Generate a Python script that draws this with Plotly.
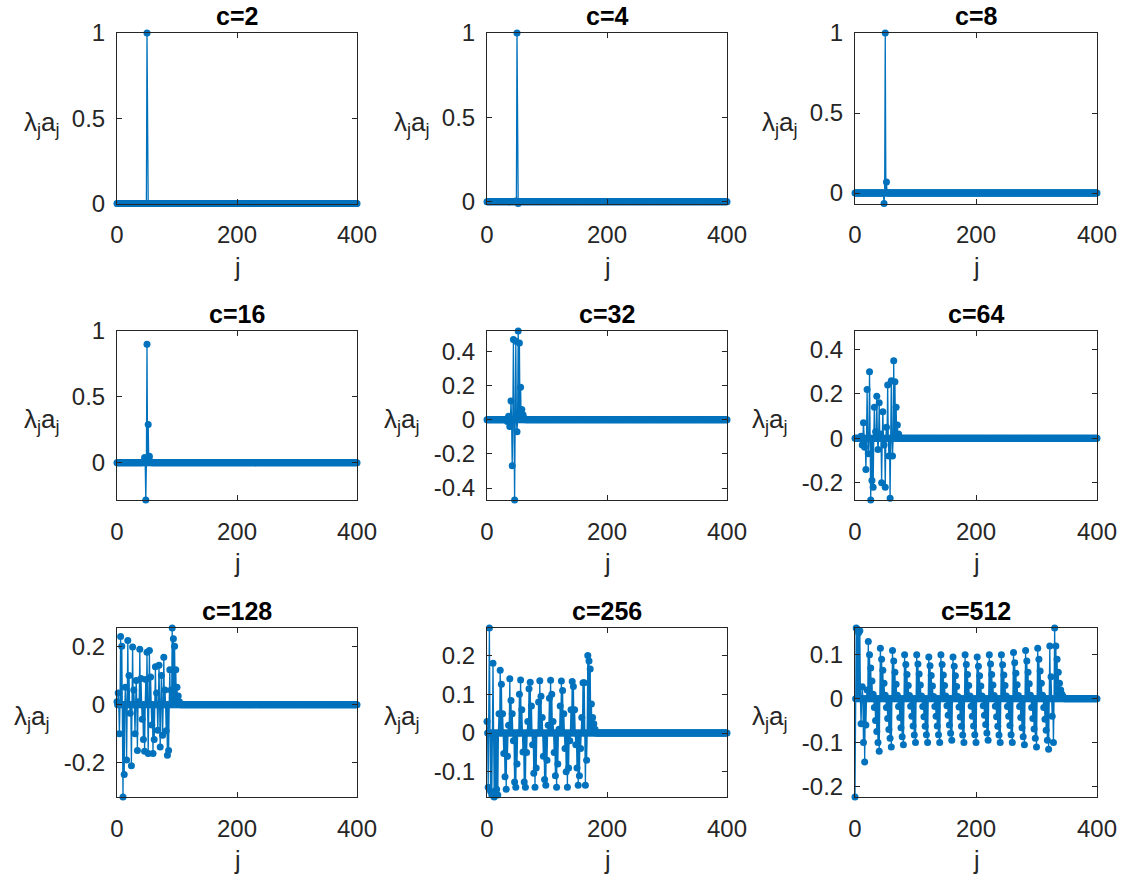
import plotly.graph_objects as go

W, H = 1123, 879
BLUE = "#0072BD"
AXC = "#262626"
FONT = "Arial, Liberation Sans, sans-serif"

j_values = list(range(0, 401))
x_ticks = [0, 200, 400]
titles = ["c=2", "c=4", "c=8", "c=16", "c=32", "c=64", "c=128", "c=256", "c=512"]

# nonzero values of lambda_j a_j, placed at even j starting at *_start (odd j are zero)
c2_start = 50
c2_vals = [1.0]
c4_start = 48
c4_vals = [0.005, 1.0, -0.01]
c8_start = 48
c8_vals = [-0.065, 1.0, 0.07]
c16_start = 44
c16_vals = [0.01, 0.04, -0.283, 0.9, 0.29, 0.05, 0.01]
c32_start = 34
c32_vals = [-0.01, 0.02, -0.04, 0.11, -0.27, 0.47, -0.47, 0.46, -0.07, 0.52, 0.45, 0.19, 0.06, 0.03, 0.01]
c64_start = 10
c64_vals = [0.01, -0.03, 0.07, -0.04, -0.14, 0.22, -0.07, 0.30, -0.278, -0.19, -0.22, 0.14, 0.03, 0.19,
            -0.05, 0.16, 0.02, -0.20, 0.12, -0.03, -0.22, 0.05, 0.24, -0.08, -0.27, 0.26, -0.08, 0.35,
            0.255, 0.14, 0.06, 0.02, 0.005]
c128_start = 0
c128_vals = [0.01, 0.04, -0.10, 0.234, 0.20, -0.317, -0.24, 0.06, -0.19, 0.22, 0.10, -0.03, -0.21, 0.198,
             0.05, -0.10, 0.083, -0.157, 0.01, 0.19, 0.09, -0.05, -0.12, -0.16, 0.086, 0.18, -0.168, 0.186,
             0.095, -0.07, -0.168, -0.12, 0.13, 0.04, -0.088, 0.135, -0.145, 0.10, -0.105, 0.163, 0.05,
             -0.09, -0.174, -0.157, 0.12, 0.05, 0.263, 0.226, 0.20, 0.12, 0.06, 0.03, 0.01]
c256_start = 0
c256_vals = [0.03, -0.14, 0.271, -0.15, -0.16, 0.18, -0.165, -0.155, -0.145, -0.16, 0.05, 0.162, 0.126,
             0.05, -0.053, -0.113, -0.145, -0.06, 0.02, 0.14, 0.084, 0.05, -0.02, -0.126, -0.14, -0.08,
             0.0, 0.10, 0.137, 0.06, -0.049, -0.126, -0.14, -0.05, 0.03, 0.114, 0.131, 0.07, -0.03,
             -0.104, -0.14, -0.09, 0.0, 0.08, 0.135, 0.095, 0.04, -0.06, -0.12, -0.135, -0.07, 0.02,
             0.09, 0.136, 0.10, 0.03, -0.05, -0.11, -0.14, -0.08, 0.01, 0.07, 0.134, 0.11, 0.05, -0.04,
             -0.10, -0.14, -0.09, -0.02, 0.06, 0.133, 0.12, 0.06, -0.03, -0.09, -0.135, -0.11, -0.04,
             0.04, 0.13, 0.13, -0.135, -0.07, 0.20, 0.186, 0.165, 0.075, 0.04, 0.024, 0.01]
c512_start = 0
c512_vals = [-0.224, 0.161, 0.158, 0.15, 0.155, -0.057, 0.027, -0.10, -0.144, -0.06, 0.02,
             0.13, 0.10, 0.07, 0.04, 0.01, -0.02, -0.05, -0.075, -0.10, -0.12,
             0.115, 0.09, 0.065, 0.035, 0.008, -0.02, -0.045, -0.07, -0.09, -0.11,
             0.11, 0.086, 0.06, 0.033, 0.008, -0.018, -0.043, -0.066, -0.087, -0.105,
             0.10, 0.078, 0.055, 0.03, 0.007, -0.017, -0.04, -0.062, -0.083, -0.10,
             0.10, 0.079, 0.056, 0.031, 0.006, -0.018, -0.041, -0.063, -0.082, -0.10,
             0.095, 0.075, 0.053, 0.029, 0.005, -0.018, -0.04, -0.062, -0.082, -0.10,
             0.10, 0.078, 0.054, 0.03, 0.006, -0.016, -0.038, -0.06, -0.079, -0.095,
             0.095, 0.074, 0.052, 0.028, 0.005, -0.019, -0.042, -0.063, -0.083, -0.10,
             0.10, 0.078, 0.055, 0.03, 0.006, -0.017, -0.04, -0.062, -0.082, -0.10,
             0.095, 0.074, 0.052, 0.029, 0.006, -0.016, -0.038, -0.059, -0.078, -0.095,
             0.10, 0.079, 0.055, 0.031, 0.007, -0.017, -0.041, -0.063, -0.083, -0.10,
             0.10, 0.077, 0.054, 0.03, 0.006, -0.018, -0.04, -0.061, -0.082, -0.10,
             0.105, 0.082, 0.058, 0.032, 0.007, -0.018, -0.043, -0.066, -0.087, -0.105,
             0.11, 0.086, 0.06, 0.034, 0.008, -0.02, -0.045, -0.069, -0.09, -0.11,
             0.115, 0.09, 0.063, 0.035, 0.008, -0.02, -0.047, -0.072, -0.095, -0.115,
             0.12, 0.05, -0.04, -0.10, 0.161, 0.12, 0.09, 0.06, 0.035, 0.02, 0.01, 0.005]

starts = [c2_start, c4_start, c8_start, c16_start, c32_start, c64_start, c128_start, c256_start, c512_start]
vals = [c2_vals, c4_vals, c8_vals, c16_vals, c32_vals, c64_vals, c128_vals, c256_vals, c512_vals]

y_ranges = [[0, 1], [-0.01, 1], [-0.065, 1.0], [-0.283, 1.0], [-0.47, 0.52], [-0.278, 0.484],
            [-0.317, 0.263], [-0.165, 0.271], [-0.224, 0.161]]
y_ticks = [[0, 0.5, 1], [0, 0.5, 1], [0, 0.5, 1], [0, 0.5, 1], [-0.4, -0.2, 0, 0.2, 0.4],
           [-0.2, 0, 0.2, 0.4], [-0.2, 0, 0.2], [-0.1, 0, 0.1, 0.2], [-0.2, -0.1, 0, 0.1]]

# layout geometry in pixels
col_px = [(117, 357), (487, 727), (855, 1097)]
row_px = [(33, 203.5), (331, 500), (628, 797)]

fig = go.Figure()
annotations = []
for i in range(9):
    r, c = divmod(i, 3)
    y = [0.0] * len(j_values)
    for k, v in enumerate(vals[i]):
        y[starts[i] + 2 * k] = v
    ax = "" if i == 0 else str(i + 1)
    fig.add_trace(go.Scatter(
        x=j_values, y=y, mode="lines+markers",
        line=dict(color=BLUE, width=1.3),
        marker=dict(color=BLUE, size=7),
        cliponaxis=False, showlegend=False,
        xaxis="x" + ax, yaxis="y" + ax,
    ))
    x0, x1 = col_px[c]
    t0, t1 = row_px[r]
    xd = [x0 / W, x1 / W]
    yd = [1 - t1 / H, 1 - t0 / H]
    common = dict(showline=True, linecolor=AXC, linewidth=1, mirror="ticks", ticks="inside",
                  ticklen=5, tickcolor=AXC, showgrid=False, zeroline=False, automargin=False,
                  tickfont=dict(family=FONT, size=24, color=AXC))
    fig.update_layout(**{
        "xaxis" + ax: dict(domain=xd, range=[0, 400], tickvals=x_ticks,
                           ticktext=[str(t) for t in x_ticks], anchor="y" + ax,
                           ticklabelstandoff=10, **common),
        "yaxis" + ax: dict(domain=yd, range=y_ranges[i], tickvals=y_ticks[i],
                           ticktext=[("%g" % t) for t in y_ticks[i]], anchor="x" + ax,
                           ticklabelstandoff=6, **common),
    })
    cx = (x0 + x1) / 2
    cy = (t0 + t1) / 2
    annotations.append(dict(text="<b>%s</b>" % titles[i], x=cx / W, y=1 - (t0 - 17) / H,
                            xref="paper", yref="paper", xanchor="center", yanchor="middle",
                            showarrow=False, font=dict(family=FONT, size=25, color="#000000")))
    annotations.append(dict(text="j", x=cx / W, y=1 - (t1 + 63) / H,
                            xref="paper", yref="paper", xanchor="center", yanchor="middle",
                            showarrow=False, font=dict(family=FONT, size=25, color=AXC)))
    gap = 55 if max(len("%g" % t) for t in y_ticks[i]) <= 3 else 65
    annotations.append(dict(text="λ<sub>j</sub>a<sub>j</sub>", x=(x0 - gap) / W, y=1 - (cy + 5) / H,
                            xref="paper", yref="paper", xanchor="right", yanchor="middle",
                            showarrow=False, font=dict(family=FONT, size=26, color=AXC)))

fig.update_layout(width=W, height=H, margin=dict(l=0, r=0, t=0, b=0, pad=0, autoexpand=False),
                  paper_bgcolor="white", plot_bgcolor="white", annotations=annotations,
                  hovermode=False)
fig.write_html("out.html", config={"displayModeBar": False, "staticPlot": True},
               post_script="document.body.style.margin='0';document.body.style.overflow='hidden';")
